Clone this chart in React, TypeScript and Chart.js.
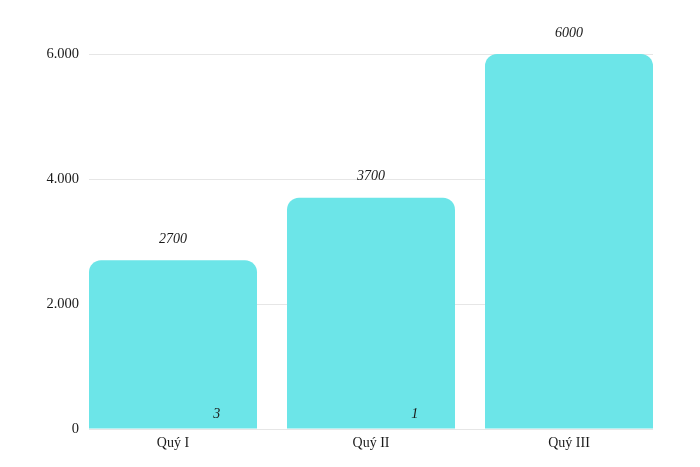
import React, { useEffect, useRef } from "react";
import { Chart, registerables } from "chart.js";

Chart.register(...registerables);

const categories = ["Quý I", "Quý II", "Quý III"];
const revenue = [2700, 3700, 6000];
const secondaryValues: (number | null)[] = [3, 1, null];
const yTicks = [0, 2000, 4000, 6000];

const FONT = "'Liberation Serif', 'Times New Roman', serif";
const TEXT = "#1a1a1a";
const BAR = "#6ce5e8";

function formatThousands(v: number): string {
  return String(Math.round(v)).replace(/\B(?=(\d{3})+(?!\d))/g, ".");
}

const labelPlugin = {
  id: "valueLabels",
  afterDatasetsDraw(chart: any) {
    const { ctx } = chart;
    const meta = chart.getDatasetMeta(0);
    const yScale = chart.scales.y;
    ctx.save();
    ctx.fillStyle = TEXT;
    ctx.font = `italic 14px ${FONT}`;
    ctx.textAlign = "center";
    ctx.textBaseline = "middle";
    meta.data.forEach((el: any, i: number) => {
      ctx.fillText(String(revenue[i]), el.x, el.y - 21);
      const s = secondaryValues[i];
      if (s !== null && s !== undefined) {
        ctx.fillText(String(s), el.x + el.width * 0.26, yScale.getPixelForValue(0) - 15);
      }
    });
    ctx.restore();
  },
};

export default function App() {
  const canvasRef = useRef<HTMLCanvasElement | null>(null);

  useEffect(() => {
    if (!canvasRef.current) return;
    const chart = new Chart(canvasRef.current, {
      type: "bar",
      data: {
        datasets: [
          {
            label: "Doanh thu",
            data: revenue.map((v, i) => ({ x: i, y: v })),
            backgroundColor: BAR,
            borderRadius: 12,
            borderSkipped: "start",
            barPercentage: 168 / 198,
            categoryPercentage: 1,
          },
        ],
      },
      options: {
        responsive: false,
        animation: false,
        devicePixelRatio: 1,
        layout: { padding: { top: 54, right: 47, bottom: 0, left: 0 } },
        plugins: {
          legend: { display: false },
          tooltip: { enabled: false },
        },
        scales: {
          x: {
            type: "linear",
            offset: false,
            min: -84 / 198,
            max: 2 + 84 / 198,
            grid: { display: false, drawTicks: false, offset: false },
            border: { display: false },
            ticks: {
              stepSize: 1,
              includeBounds: false,
              autoSkip: false,
              maxRotation: 0,
              padding: 6,
              color: TEXT,
              font: { family: FONT, size: 14 },
              callback: (v: any) => {
                const n = Number(v);
                return Number.isInteger(n) && categories[n] !== undefined ? categories[n] : null;
              },
            },
            afterFit: (scale: any) => {
              scale.height = 38;
            },
          },
          y: {
            min: yTicks[0],
            max: yTicks[yTicks.length - 1],
            grid: { color: "#e6e6e6", drawTicks: false },
            border: { display: false },
            afterBuildTicks: (scale: any) => {
              scale.ticks = yTicks.map((v) => ({ value: v }));
            },
            ticks: {
              padding: 10,
              color: TEXT,
              font: { family: FONT, size: 14.5 },
              callback: (v: any) => formatThousands(Number(v)),
            },
            afterFit: (scale: any) => {
              scale.width = 89;
            },
          },
        },
      },
      plugins: [labelPlugin],
    });
    return () => chart.destroy();
  }, []);

  return (
    <div style={{ position: "fixed", left: 0, top: 0, width: 700, height: 467, background: "#fff" }}>
      <canvas ref={canvasRef} width={700} height={467} style={{ display: "block" }} />
    </div>
  );
}
